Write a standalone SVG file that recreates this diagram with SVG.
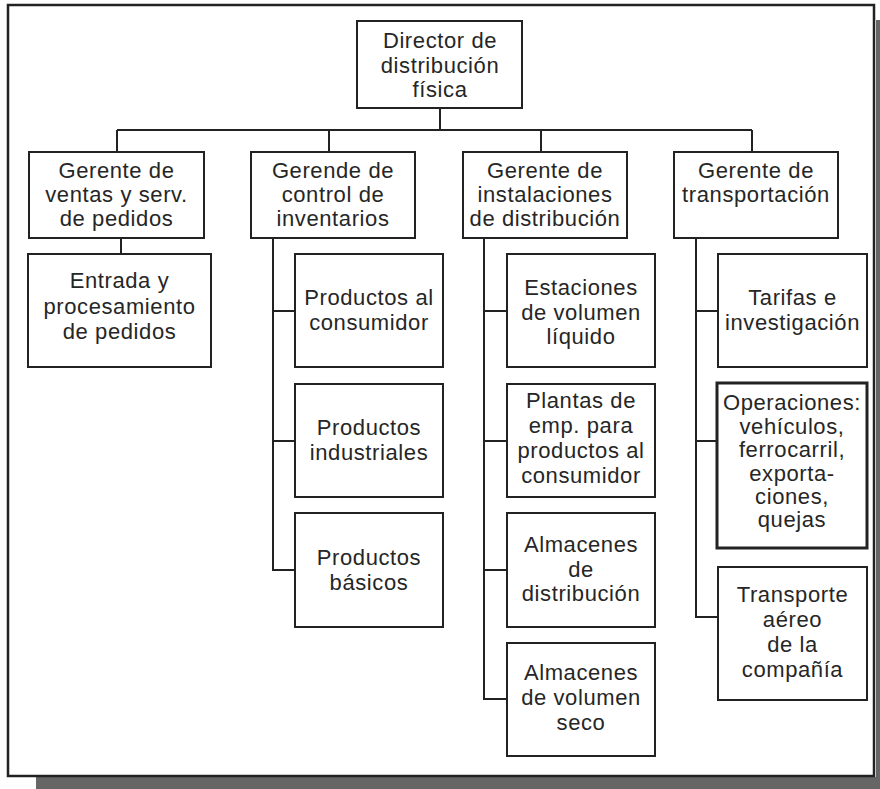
<svg xmlns="http://www.w3.org/2000/svg" width="880" height="789" viewBox="0 0 880 789">
  <style>
    .box { fill: #ffffff; stroke: #222222; stroke-width: 2; }
    .box.heavy { stroke-width: 3; }
    .lbl { font-family: "Liberation Sans", Arial, sans-serif; font-size: 22px; letter-spacing: 0.6px; fill: #262626; text-anchor: middle; }
    .wire { fill: none; stroke: #222222; stroke-width: 2; }
  </style>

  <!-- page background, drop shadow and frame -->
  <rect x="0" y="0" width="880" height="789" fill="#ffffff"/>
  <rect x="36" y="777" width="844" height="12" fill="#666666"/>
  <rect x="876" y="20" width="4" height="769" fill="#666666"/>
  <rect x="8" y="5" width="866" height="771" fill="#ffffff" stroke="#222222" stroke-width="2.5"/>

  <!-- connectors -->
  <g id="connectors" class="wire">
    <path d="M440 108 V130 M117 130 H752 M117 130 V152 M329 130 V152 M541 130 V152 M752 130 V152"/>
    <path d="M121 238 V254"/>
    <path d="M273 238 V570 H295 M273 311 H295 M273 441 H295"/>
    <path d="M484 238 V699 H507 M484 311 H507 M484 441 H507 M484 570 H507"/>
    <path d="M696 238 V617 H718 M696 311 H718 M696 441 H717"/>
  </g>

  <!-- top level -->
  <g id="director">
    <rect class="box" x="357" y="21" width="165" height="87"/>
    <text class="lbl" x="440" y="48">Director de</text>
    <text class="lbl" x="440" y="73">distribución</text>
    <text class="lbl" x="440" y="97">física</text>
  </g>

  <!-- managers -->
  <g id="gerente-ventas">
    <rect class="box" x="29" y="152" width="175" height="86"/>
    <text class="lbl" x="116.5" y="178">Gerente de</text>
    <text class="lbl" x="116.5" y="202">ventas y serv.</text>
    <text class="lbl" x="116.5" y="226">de pedidos</text>
  </g>
  <g id="gerente-inventarios">
    <rect class="box" x="251" y="152" width="164" height="86"/>
    <text class="lbl" x="333" y="178">Gerende de</text>
    <text class="lbl" x="333" y="202">control de</text>
    <text class="lbl" x="333" y="226">inventarios</text>
  </g>
  <g id="gerente-instalaciones">
    <rect class="box" x="463" y="152" width="164" height="86"/>
    <text class="lbl" x="545" y="178">Gerente de</text>
    <text class="lbl" x="545" y="202">instalaciones</text>
    <text class="lbl" x="545" y="226">de distribución</text>
  </g>
  <g id="gerente-transportacion">
    <rect class="box" x="674" y="152" width="164" height="86"/>
    <text class="lbl" x="756" y="178">Gerente de</text>
    <text class="lbl" x="756" y="202">transportación</text>
  </g>

  <!-- ventas -->
  <g id="entrada-pedidos">
    <rect class="box" x="28" y="254" width="183" height="113"/>
    <text class="lbl" x="119.5" y="288">Entrada y</text>
    <text class="lbl" x="119.5" y="314">procesamiento</text>
    <text class="lbl" x="119.5" y="339">de pedidos</text>
  </g>

  <!-- inventarios -->
  <g id="productos-consumidor">
    <rect class="box" x="295" y="254" width="148" height="113"/>
    <text class="lbl" x="369" y="305">Productos al</text>
    <text class="lbl" x="369" y="330">consumidor</text>
  </g>
  <g id="productos-industriales">
    <rect class="box" x="295" y="384" width="148" height="113"/>
    <text class="lbl" x="369" y="435">Productos</text>
    <text class="lbl" x="369" y="460">industriales</text>
  </g>
  <g id="productos-basicos">
    <rect class="box" x="295" y="513" width="148" height="114"/>
    <text class="lbl" x="369" y="565">Productos</text>
    <text class="lbl" x="369" y="590">básicos</text>
  </g>

  <!-- instalaciones -->
  <g id="estaciones-liquido">
    <rect class="box" x="507" y="254" width="148" height="113"/>
    <text class="lbl" x="581" y="295">Estaciones</text>
    <text class="lbl" x="581" y="320">de volumen</text>
    <text class="lbl" x="581" y="344">líquido</text>
  </g>
  <g id="plantas-empaque">
    <rect class="box" x="507" y="384" width="148" height="113"/>
    <text class="lbl" x="581" y="408">Plantas de</text>
    <text class="lbl" x="581" y="433">emp. para</text>
    <text class="lbl" x="581" y="458">productos al</text>
    <text class="lbl" x="581" y="483">consumidor</text>
  </g>
  <g id="almacenes-distribucion">
    <rect class="box" x="507" y="513" width="148" height="114"/>
    <text class="lbl" x="581" y="552">Almacenes</text>
    <text class="lbl" x="581" y="577">de</text>
    <text class="lbl" x="581" y="601">distribución</text>
  </g>
  <g id="almacenes-seco">
    <rect class="box" x="507" y="643" width="148" height="113"/>
    <text class="lbl" x="581" y="680">Almacenes</text>
    <text class="lbl" x="581" y="705">de volumen</text>
    <text class="lbl" x="581" y="730">seco</text>
  </g>

  <!-- transportacion -->
  <g id="tarifas">
    <rect class="box" x="718" y="254" width="149" height="113"/>
    <text class="lbl" x="792.5" y="305">Tarifas e</text>
    <text class="lbl" x="792.5" y="330">investigación</text>
  </g>
  <g id="operaciones">
    <rect class="box heavy" x="717" y="383" width="150" height="165"/>
    <text class="lbl" x="792" y="410">Operaciones:</text>
    <text class="lbl" x="792" y="434">vehículos,</text>
    <text class="lbl" x="792" y="457">ferrocarril,</text>
    <text class="lbl" x="792" y="481">exporta-</text>
    <text class="lbl" x="792" y="504">ciones,</text>
    <text class="lbl" x="792" y="527">quejas</text>
  </g>
  <g id="transporte-aereo">
    <rect class="box" x="718" y="567" width="149" height="133"/>
    <text class="lbl" x="792.5" y="602">Transporte</text>
    <text class="lbl" x="792.5" y="627">aéreo</text>
    <text class="lbl" x="792.5" y="652">de la</text>
    <text class="lbl" x="792.5" y="677">compañía</text>
  </g>
</svg>
